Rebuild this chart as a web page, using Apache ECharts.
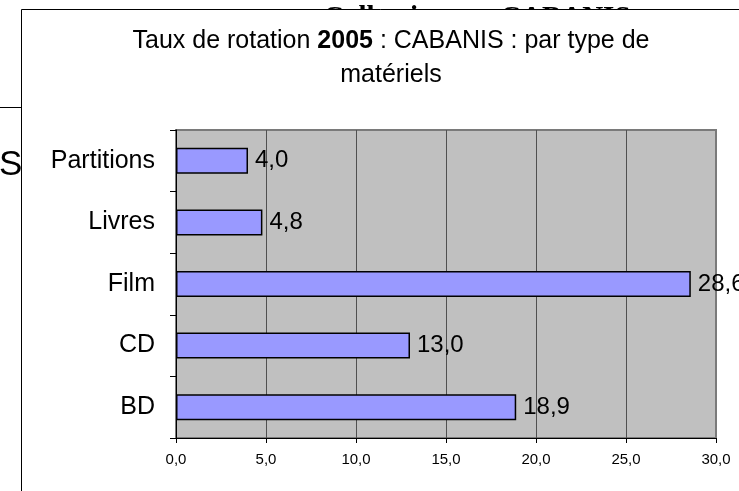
<!DOCTYPE html>
<html lang="fr">
<head>
    <meta charset="UTF-8">
    <title>Taux de rotation 2005 - CABANIS</title>
    <script src="https://cdn.jsdelivr.net/npm/echarts@6/dist/echarts.min.js"></script>
    <style>
        html, body { margin: 0; padding: 0; background: #fff; }
        #chart { width: 739px; height: 491px; }
    </style>
</head>
<body>
<div id="chart"></div>

<script>
    // données (de bas en haut)
    const categories = ['BD', 'CD', 'Film', 'Livres', 'Partitions'];
    const tauxRotation = [18.9, 13.0, 28.6, 4.8, 4.0];
    const xTicks = { min: 0, max: 30, interval: 5 };

    const fmt = v => Number(v).toFixed(1).replace('.', ',');
    const FONT = '"Liberation Sans", Arial, sans-serif';

    const myChart = echarts.init(document.getElementById('chart'), null, { renderer: 'canvas' });

    const option = {
        backgroundColor: '#fff',
        animation: false,
        graphic: [
            // restes du document derrière le cadre (calque 0)
            { type: 'text', zlevel: 0, x: 323, y: 4,
              style: { text: 'Collection :', font: 'bold 29px "Liberation Serif", serif', fill: '#000', verticalAlign: 'top' } },
            { type: 'text', zlevel: 0, x: 500, y: 4,
              style: { text: 'CABANIS', font: 'bold 29px "Liberation Serif", serif', fill: '#000', verticalAlign: 'top' } },
            { type: 'text', zlevel: 0, x: -1, y: 165,
              style: { text: 'S', font: '35px ' + FONT, fill: '#000', verticalAlign: 'middle' } },
            { type: 'line', zlevel: 0, shape: { x1: 0, y1: 107.5, x2: 21, y2: 107.5 },
              style: { stroke: '#000', lineWidth: 1 } },
            // cadre du graphique (calque 1)
            { type: 'rect', zlevel: 1, z: -10, shape: { x: 21.5, y: 9.5, width: 800, height: 600 },
              style: { fill: '#fff', stroke: '#000', lineWidth: 1 } },
            // titre
            { type: 'text', zlevel: 1, z: 10, x: 391, y: 24,
              style: {
                  text: '{n|Taux de rotation }{b|2005}{n| : CABANIS : par type de}\n{n|matériels}',
                  align: 'center', verticalAlign: 'top',
                  rich: {
                      n: { font: '25px ' + FONT, fill: '#000', lineHeight: 34 },
                      b: { font: 'bold 25px ' + FONT, fill: '#000', lineHeight: 34 }
                  }
              } }
        ],
        grid: {
            zlevel: 1,
            left: 176, right: 23, top: 130, bottom: 53,
            show: true,
            backgroundColor: '#c0c0c0',
            borderColor: '#7a7a7a',
            borderWidth: 2
        },
        xAxis: {
            zlevel: 1,
            type: 'value',
            min: xTicks.min, max: xTicks.max, interval: xTicks.interval,
            axisLine: { show: true, lineStyle: { color: '#000', width: 1 } },
            axisTick: { show: true, length: 5, lineStyle: { color: '#000' } },
            axisLabel: { formatter: fmt, color: '#000', fontFamily: FONT, fontSize: 15, margin: 14 },
            splitLine: { show: true, showMinLine: false, showMaxLine: false, lineStyle: { color: '#505050', width: 1 } }
        },
        yAxis: {
            zlevel: 1,
            type: 'category',
            data: categories,
            axisLine: { show: true, lineStyle: { color: '#000', width: 1 } },
            axisTick: { show: true, length: 6, lineStyle: { color: '#000' } },
            axisLabel: { color: '#000', fontFamily: FONT, fontSize: 25, margin: 21 },
            splitLine: { show: false }
        },
        series: [{
            zlevel: 1,
            type: 'bar',
            data: tauxRotation,
            barWidth: 26,
            itemStyle: { color: '#9999ff', borderColor: '#000', borderWidth: 1.5 },
            label: {
                show: true,
                position: 'right',
                distance: 7,
                formatter: p => fmt(p.value),
                color: '#000',
                fontFamily: FONT,
                fontSize: 24
            }
        }]
    };

    myChart.setOption(option);
</script>
</body>
</html>
